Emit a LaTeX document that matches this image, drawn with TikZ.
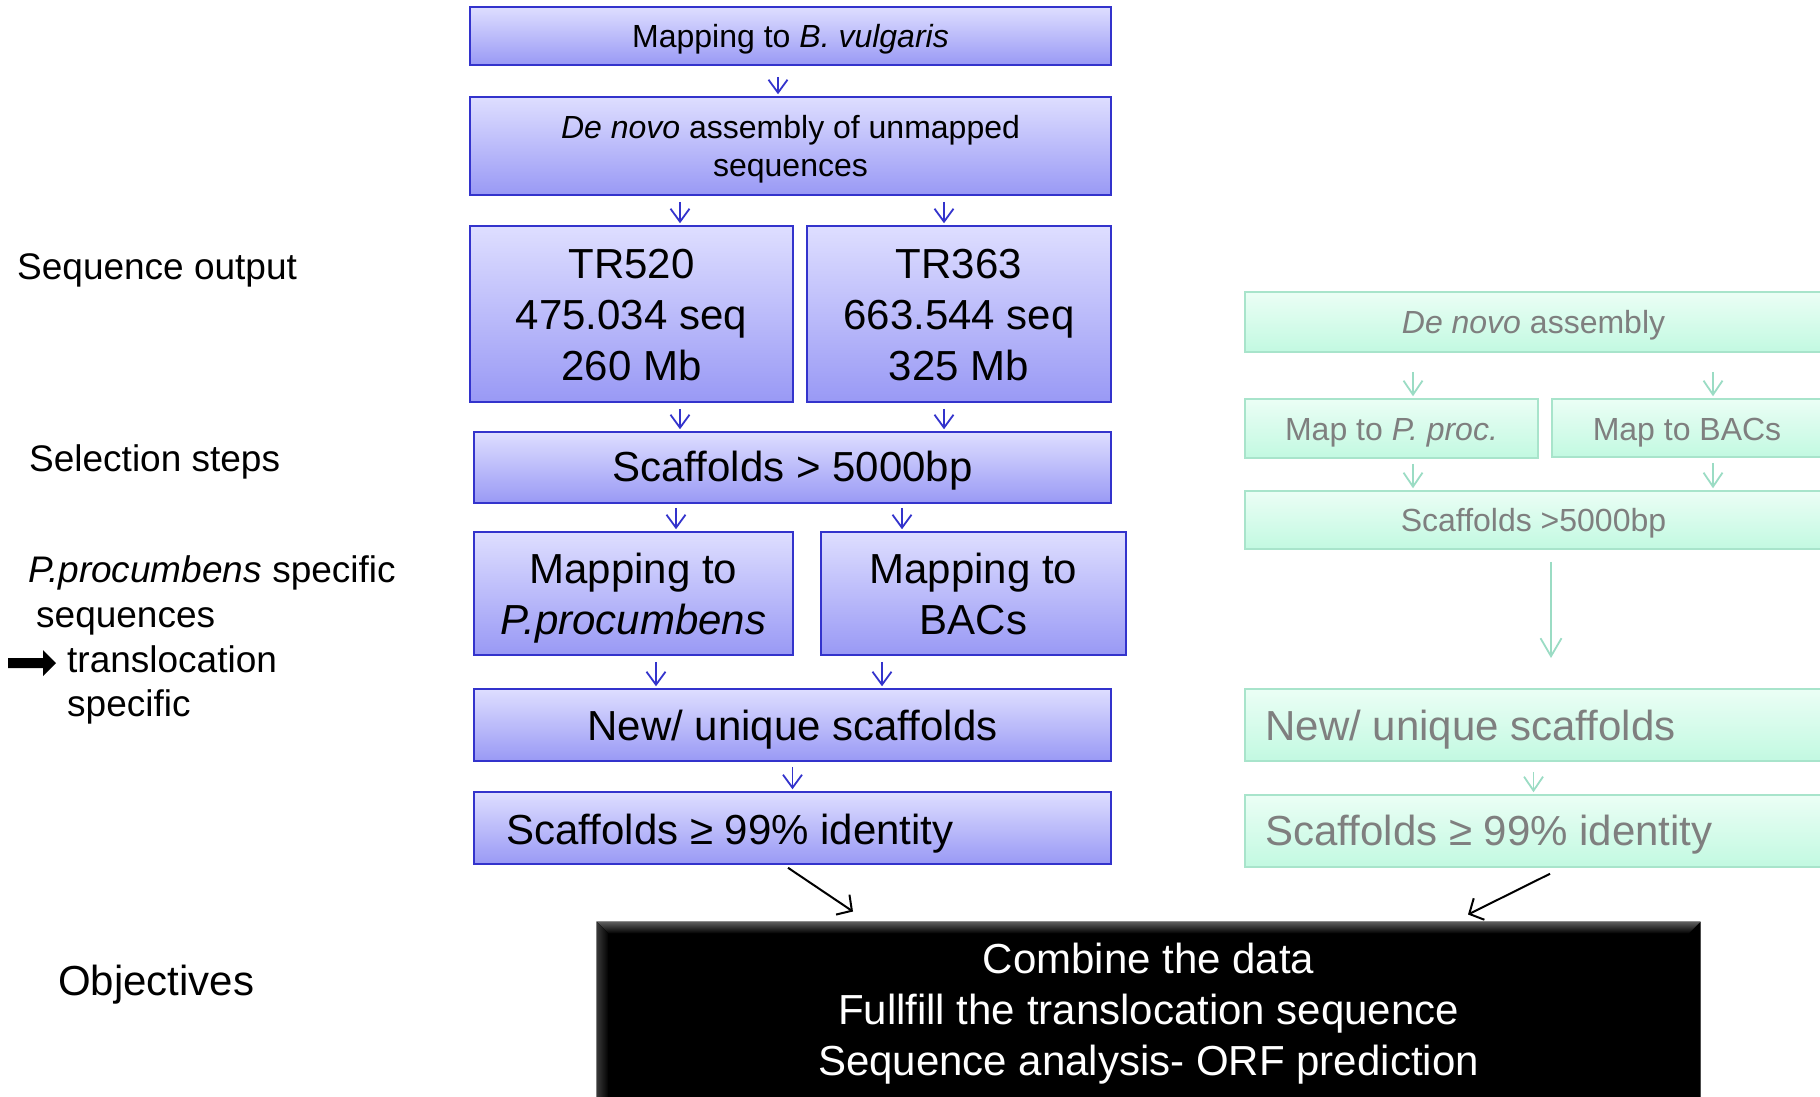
\documentclass[tikz,border=0pt]{standalone}
\usepackage{fontspec}
\setmainfont{Liberation Sans}
\usetikzlibrary{arrows.meta,calc}
\definecolor{bborder}{HTML}{3333CC}
\definecolor{btop}{HTML}{DEDEFF}
\definecolor{bbot}{HTML}{9999F5}
\definecolor{gborder}{HTML}{A8E4CB}
\definecolor{gtop}{HTML}{EBFEF5}
\definecolor{gbot}{HTML}{C2F9E1}
\definecolor{gtext}{HTML}{7F7F7F}
\definecolor{garrow}{HTML}{9BDCC4}
\newcommand\myfa{\fontsize{32}{38}\selectfont}
\newcommand\myfb{\fontsize{42}{51}\selectfont}
\newcommand\myfl{\fontsize{37}{44}\selectfont}
\begin{document}
\begin{tikzpicture}[x=1pt,y=-1pt,
  bluebox/.style={draw=bborder, line width=1.5pt, top color=btop, bottom color=bbot, inner sep=0pt},
  greenbox/.style={draw=gborder, line width=1.5pt, top color=gtop, bottom color=gbot, inner sep=0pt},
  btext/.style={inner sep=0pt, align=center, text=black},
  gtxt/.style={inner sep=0pt, align=center, text=gtext},
  barrow/.style={draw=bborder, line width=1.8pt, -{Straight Barb[length=13pt,width=19pt]}, shorten <=6pt, shorten >=2pt},
  garr/.style={draw=garrow, line width=1.8pt, -{Straight Barb[length=14pt,width=19pt]}, shorten <=6pt, shorten >=2pt},
  karrow/.style={draw=black, line width=2pt, -{Straight Barb[length=11pt,width=24pt]}},
  lbl/.style={anchor=base west, inner sep=0pt, font=\myfl},
]
\useasboundingbox (0,0) rectangle (1820,1096);
\clip (0,0) rectangle (1820,1096);

% ---- blue column ----
\node[bluebox, minimum width=641pt, minimum height=58pt] (b1) at (790.5,36) {};
\node[bluebox, minimum width=641pt, minimum height=98pt] (b2) at (790.5,146) {};
\node[bluebox, minimum width=323pt, minimum height=176pt] (tr520) at (631.5,314) {};
\node[bluebox, minimum width=304pt, minimum height=176pt] (tr363) at (959,314) {};
\node[bluebox, minimum width=637pt, minimum height=71pt] (sc) at (792.5,467.5) {};
\node[bluebox, minimum width=319pt, minimum height=123pt] (mpp) at (633.5,593.5) {};
\node[bluebox, minimum width=305pt, minimum height=123pt] (mbac) at (973.5,593.5) {};
\node[bluebox, minimum width=637pt, minimum height=72pt] (nu) at (792.5,725) {};
\node[bluebox, minimum width=637pt, minimum height=72pt] (s99) at (792.5,828) {};

\node[btext, font=\myfa] (b1t) at ([yshift=-3.5pt]b1.center) {Mapping to \textit{B. vulgaris}};
\node[btext, font=\myfa] (b2t) at ([yshift=-3.5pt]b2.center) {\textit{De novo} assembly of unmapped\\sequences};
\node[btext, font=\myfb] (tr520t) at ([yshift=-1pt]tr520.center) {TR520\\475.034 seq\\260 Mb};
\node[btext, font=\myfb] (tr363t) at ([yshift=-1pt]tr363.center) {TR363\\663.544 seq\\325 Mb};
\node[btext, font=\myfb] (sct) at ([yshift=-3.5pt]sc.center) {Scaffolds > 5000bp};
\node[btext, font=\myfb] (mppt) at ([yshift=-4.5pt]mpp.center) {Mapping to\\\textit{P.procumbens}};
\node[btext, font=\myfb] (mbact) at (mbac.center) {Mapping to\\BACs};
\node[btext, font=\myfb] (nut) at ([yshift=-4.5pt]nu.center) {New/ unique scaffolds};
\node[btext, font=\myfb, anchor=west] (s99t) at ([xshift=33pt,yshift=-5.5pt]s99.west) {Scaffolds ≥ 99\% identity};

\draw[barrow, shorten <=11pt] ([xshift=-12.5pt]b1.south) -- ([xshift=-12.5pt]b2.north);
\draw[barrow] ([xshift=-110.5pt]b2.south) -- ([xshift=48.5pt]tr520.north);
\draw[barrow] ([xshift=153.5pt]b2.south) -- ([xshift=-15pt]tr363.north);
\draw[barrow] ([xshift=48.5pt]tr520.south) -- ([xshift=-112.5pt]sc.north);
\draw[barrow] ([xshift=-15pt]tr363.south) -- ([xshift=151.5pt]sc.north);
\draw[barrow, shorten <=4pt] ([xshift=-116.5pt]sc.south) -- ([xshift=42.5pt]mpp.north);
\draw[barrow, shorten <=4pt] ([xshift=109.5pt]sc.south) -- ([xshift=-71.5pt]mbac.north);
\draw[barrow] ([xshift=22.5pt]mpp.south) -- ([xshift=-136.5pt]nu.north);
\draw[barrow] ([xshift=-91.5pt]mbac.south) -- ([xshift=89.5pt]nu.north);
\draw[barrow, shorten <=5pt] (nu.south) -- (s99.north);

% ---- green column ----
\node[greenbox, minimum width=577pt, minimum height=60pt] (g1) at (1533.5,322) {};
\node[greenbox, minimum width=293pt, minimum height=59pt] (g2a) at (1391.5,428.5) {};
\node[greenbox, minimum width=270pt, minimum height=58pt] (g2b) at (1687,428) {};
\node[greenbox, minimum width=577pt, minimum height=58pt] (g3) at (1533.5,520) {};
\node[greenbox, minimum width=577pt, minimum height=72pt] (g4) at (1533.5,725) {};
\node[greenbox, minimum width=577pt, minimum height=72pt] (g5) at (1533.5,831) {};

\node[gtxt, font=\myfa] (g1t) at ([yshift=-3.5pt]g1.center) {\textit{De novo} assembly};
\node[gtxt, font=\myfa] (g2at) at ([yshift=-4.5pt]g2a.center) {Map to \textit{P. proc.}};
\node[gtxt, font=\myfa] (g2bt) at ([yshift=-4.5pt]g2b.center) {Map to BACs};
\node[gtxt, font=\myfa] (g3t) at ([yshift=-3.5pt]g3.center) {Scaffolds >5000bp};
\node[gtxt, font=\myfb, anchor=west] (g4t) at ([xshift=21pt,yshift=-4.5pt]g4.west) {New/ unique scaffolds};
\node[gtxt, font=\myfb, anchor=west] (g5t) at ([xshift=21pt,yshift=-3.5pt]g5.west) {Scaffolds ≥ 99\% identity};
\coordinate (gend) at (1551,658);

\draw[garr, shorten <=19pt] ([xshift=-120.5pt]g1.south) -- ([xshift=21.5pt]g2a.north);
\draw[garr, shorten <=19pt] ([xshift=179.5pt]g1.south) -- ([xshift=26pt]g2b.north);
\draw[garr, shorten <=5pt] ([xshift=21.5pt]g2a.south) -- ([xshift=-120.5pt]g3.north);
\draw[garr, shorten <=5pt] ([xshift=26pt]g2b.south) -- ([xshift=179.5pt]g3.north);
\draw[garr, -{Straight Barb[length=18pt,width=21pt]}, shorten <=12pt, shorten >=0pt] ([xshift=17.5pt]g3.south) -- (gend);
\draw[garr, shorten <=10pt] (g4.south) -- (g5.north);

% ---- objectives box ----
\node[fill=black, draw=gray!60!black, line width=1pt, minimum width=1103pt, minimum height=178pt, inner sep=0pt] (obj) at (1148.5,1011) {};
\fill[top color=gray!75!black, bottom color=black] (obj.north west) -- (obj.north east) -- ([xshift=-12pt,yshift=-12pt]obj.north east) -- ([xshift=12pt,yshift=-12pt]obj.north west) -- cycle;
\fill[left color=gray!45!black, right color=black] (obj.north west) -- ([xshift=12pt,yshift=-12pt]obj.north west) -- ([xshift=12pt]obj.south west) -- (obj.south west) -- cycle;
\node[text=white, align=center, font=\myfb, inner sep=0pt] (objtxt) at ([yshift=-3pt]obj.center) {Combine the data\\Fullfill the translocation sequence\\Sequence analysis- ORF prediction};

\draw[karrow] ([xshift=-4.5pt,yshift=-3pt]s99.south) -- ([xshift=-295.5pt,yshift=10pt]obj.north);
\draw[karrow] ([xshift=16.5pt,yshift=-6pt]g5.south) -- ([xshift=319.5pt,yshift=7pt]obj.north);

% ---- left labels ----
\node[lbl] (l1) at (17,279) {Sequence output};
\node[lbl] (l2) at (29,471) {Selection steps};
\node[lbl] (l3) at (28,582) {\textit{P.procumbens} specific};
\node[lbl] (l4) at (36,627) {sequences};
\node[lbl] (l5) at (67,672) {translocation};
\node[lbl] (l6) at (67,716) {specific};
\node[lbl, font=\myfb] (l7) at (58,995) {Objectives};
\fill[black] (8,658) -- (43,658) -- (43,650) -- (56,663) -- (43,676) -- (43,668) -- (8,668) -- cycle;
\end{tikzpicture}
\end{document}
